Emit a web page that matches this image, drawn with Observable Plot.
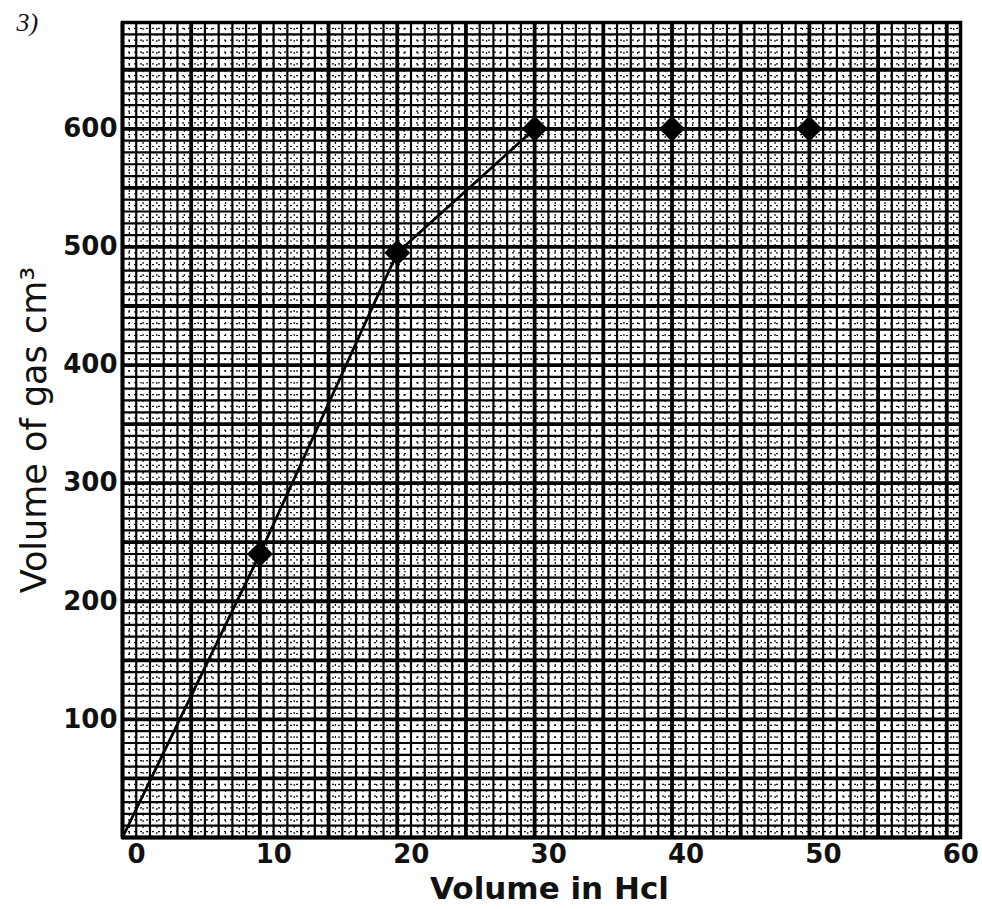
<!DOCTYPE html>
<html>
<head>
<meta charset="utf-8">
<script src="https://cdn.jsdelivr.net/npm/d3@7"></script>
<script src="https://cdn.jsdelivr.net/npm/@observablehq/plot@0.6"></script>
<style>
  body { margin: 0; background: #fff; }
  #chart svg { display: block; }
</style>
</head>
<body>
<div id="chart"></div>
<script>
// Data
const volumeHCl = [0, 10, 20, 30, 40, 50];
const volumeGas = [0, 240, 495, 600, 600, 600];
const xTicks = [0, 10, 20, 30, 40, 50, 60];
const yTicks = [100, 200, 300, 400, 500, 600];
const xLabel = "Volume in Hcl";
const yLabel = "Volume of gas cm³";
const cornerLabel = "3)";

const points = volumeHCl.map((x, i) => ({x, y: volumeGas[i]}));

const xMax = 61, yMax = 690;
const minorX = d3.range(0, xMax + 0.01, 1);
const majorX = d3.range(0, xMax + 0.01, 5);
const halfX = d3.range(0.5, xMax, 1);
const minorY = d3.range(0, yMax + 0.01, 10);
const majorY = d3.range(0, yMax + 0.01, 50);
const halfY = d3.range(5, yMax, 10);

const tickFont = "DejaVu Sans, sans-serif";

const chart = Plot.plot({
  width: 982,
  height: 909,
  marginLeft: 122,
  marginRight: 22,
  marginTop: 22,
  marginBottom: 72,
  style: {background: "#fff", fontFamily: tickFont, color: "#111"},
  x: {domain: [0, xMax], axis: null},
  y: {domain: [0, yMax], axis: null},
  marks: [
    Plot.ruleX(halfX, {stroke: "#111", strokeWidth: 1.2, strokeDasharray: "2,4"}),
    Plot.ruleY(halfY, {stroke: "#111", strokeWidth: 1.2, strokeDasharray: "2,4"}),
    Plot.ruleX(minorX, {stroke: "#000", strokeWidth: 2.2}),
    Plot.ruleY(minorY, {stroke: "#000", strokeWidth: 2.2}),
    Plot.ruleX(majorX, {stroke: "#000", strokeWidth: 3.8}),
    Plot.ruleY(majorY, {stroke: "#000", strokeWidth: 3.8}),
    Plot.frame({stroke: "#000", strokeWidth: 3.5}),
    Plot.line(points, {x: "x", y: "y", stroke: "#000", strokeWidth: 2.8}),
    Plot.dot(points.filter(d => d.x > 0), {x: "x", y: "y", r: 9.5, fill: "#000", stroke: "#000", symbol: "square", rotate: 45}),
    // tick labels
    Plot.text(xTicks, {x: d => d, frameAnchor: "bottom", dy: 25, dx: 14, fontSize: 26, fontWeight: "bold", fill: "#111"}),
    Plot.text(yTicks, {y: d => d, frameAnchor: "left", textAnchor: "end", dx: -5, fontSize: 26, fontWeight: "bold", fill: "#111"}),
    // axis titles
    Plot.text([xLabel], {frameAnchor: "bottom", dy: 61, dx: 8, fontSize: 31, fontWeight: "bold", fill: "#111"}),
    Plot.text([yLabel], {frameAnchor: "left", textAnchor: "middle", dx: -88, dy: 0, rotate: -90, fontSize: 35, fontWeight: "normal", fill: "#111"}),
    Plot.text([cornerLabel], {frameAnchor: "top-left", dx: -106, dy: -10, fontSize: 26, fontStyle: "italic", fontWeight: "normal", fontFamily: "Liberation Serif, serif", fill: "#111"})
  ]
});
document.getElementById("chart").append(chart);
</script>
</body>
</html>
